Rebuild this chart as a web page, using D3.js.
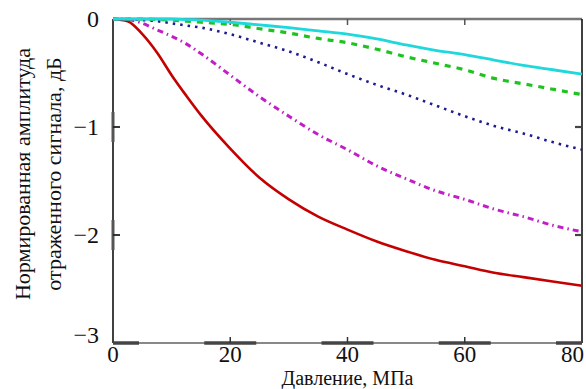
<!DOCTYPE html>
<html>
<head>
<meta charset="utf-8">
<script src="https://cdn.jsdelivr.net/npm/d3@7"></script>
<style>
  body { margin: 0; background: #fff; }
  svg { display: block; }
  text { font-family: 'Liberation Serif', 'DejaVu Serif', serif; fill: #111; }
</style>
</head>
<body>
<div id="chart"></div>
<script>
// pressure, MPa (shared by every series)
const pressure = [0, 2.5, 5, 7.5, 10, 12.5, 15, 20, 25, 30, 35, 40, 45, 50, 55, 60, 65, 70, 75, 80];

// normalized amplitude, dB
const seriesCyan    = [0, 0, 0, 0, 0, -0.005, -0.01, -0.03, -0.055, -0.08, -0.11, -0.14, -0.185, -0.24, -0.29, -0.33, -0.38, -0.43, -0.47, -0.51];
const seriesGreen   = [0, 0, 0, -0.005, -0.01, -0.02, -0.03, -0.05, -0.09, -0.13, -0.18, -0.22, -0.28, -0.35, -0.41, -0.47, -0.55, -0.60, -0.65, -0.70];
const seriesBlue    = [0, 0, -0.01, -0.02, -0.04, -0.06, -0.08, -0.14, -0.22, -0.30, -0.40, -0.51, -0.61, -0.70, -0.80, -0.90, -0.99, -1.06, -1.14, -1.21];
const seriesMagenta = [0, -0.005, -0.04, -0.10, -0.16, -0.23, -0.32, -0.52, -0.72, -0.90, -1.07, -1.21, -1.36, -1.48, -1.59, -1.67, -1.76, -1.83, -1.91, -1.97];
const seriesRed     = [0, -0.02, -0.14, -0.31, -0.52, -0.71, -0.89, -1.20, -1.47, -1.67, -1.83, -1.95, -2.06, -2.15, -2.23, -2.29, -2.35, -2.39, -2.43, -2.47];

const xTicks = [0, 20, 40, 60, 80];
const yTicks = [0, -1, -2, -3];
const xTitle = 'Давление, МПа';
const yTitleLines = ['Нормированная амплитуда', 'отраженного сигнала, дБ'];

const width = 586, height = 389;
const margin = {top: 19, right: 4, bottom: 46, left: 113};
const innerW = width - margin.left - margin.right;
const innerH = height - margin.top - margin.bottom;

const svg = d3.select('#chart').append('svg')
  .attr('width', width)
  .attr('height', height);

const x = d3.scaleLinear().domain([0, 80]).range([margin.left, margin.left + innerW]);
const y = d3.scaleLinear().domain([-3, 0]).range([margin.top + innerH, margin.top]);

// styles for each curve (drawn back to front)
const styles = [
  {data: seriesRed,     color: '#c40000', width: 2.6, dash: null},
  {data: seriesMagenta, color: '#c21ec8', width: 3,   dash: '6,4,1.5,4'},
  {data: seriesBlue,    color: '#1c1c8e', width: 2.6, dash: '2.5,5'},
  {data: seriesGreen,   color: '#1ec41e', width: 3.2, dash: '6,6'},
  {data: seriesCyan,    color: '#1ed8dc', width: 2.8, dash: null}
];

// frame: thin lines with darker thick stubs round the ticks
const frame = svg.append('g').attr('class', 'frame');
const x0 = x(0), x1 = x(80), yTop = y(0), yBot = y(-3);

frame.append('line').attr('x1', x0).attr('x2', x1).attr('y1', yTop).attr('y2', yTop)
  .style('stroke', '#777').style('stroke-width', 2.5);
frame.append('line').attr('x1', x0).attr('x2', x1).attr('y1', yBot).attr('y2', yBot)
  .style('stroke', '#888').style('stroke-width', 2);
frame.append('line').attr('x1', x0).attr('x2', x0).attr('y1', yTop).attr('y2', yBot)
  .style('stroke', '#111').style('stroke-width', 1.6);
frame.append('line').attr('x1', x1).attr('x2', x1).attr('y1', yTop).attr('y2', yBot)
  .style('stroke', '#111').style('stroke-width', 1.6);

// bottom stubs
frame.append('g').selectAll('line')
  .data(xTicks)
  .enter().append('line')
  .attr('x1', d => Math.max(x0, x(d) - 26))
  .attr('x2', d => Math.min(x1, x(d) + 26))
  .attr('y1', yBot).attr('y2', yBot)
  .style('stroke', '#444').style('stroke-width', 3.5);

// left stubs
frame.append('g').selectAll('line')
  .data([-1, -2])
  .enter().append('line')
  .attr('x1', x0).attr('x2', x0)
  .attr('y1', d => y(d) - 15).attr('y2', d => y(d) + 15)
  .style('stroke', '#555').style('stroke-width', 3);

// inward tick marks
const xIn = xTicks.filter(d => d > 0 && d < 80);
const yIn = [-1, -2];
frame.append('g').selectAll('line')
  .data(xIn).enter().append('line')
  .attr('x1', d => x(d)).attr('x2', d => x(d))
  .attr('y1', yBot).attr('y2', yBot - 6)
  .style('stroke', '#333').style('stroke-width', 1.5);
frame.append('g').selectAll('line')
  .data(xIn).enter().append('line')
  .attr('x1', d => x(d)).attr('x2', d => x(d))
  .attr('y1', yTop).attr('y2', yTop + 6)
  .style('stroke', '#555').style('stroke-width', 1.5);
frame.append('g').selectAll('line')
  .data(yIn).enter().append('line')
  .attr('x1', x0).attr('x2', x0 + 7)
  .attr('y1', d => y(d)).attr('y2', d => y(d))
  .style('stroke', '#222').style('stroke-width', 1.8);
frame.append('g').selectAll('line')
  .data(yIn).enter().append('line')
  .attr('x1', x1).attr('x2', x1 - 7)
  .attr('y1', d => y(d)).attr('y2', d => y(d))
  .style('stroke', '#444').style('stroke-width', 2.2);

// curves
const line = d3.line()
  .x(d => x(d[0]))
  .y(d => y(d[1]))
  .curve(d3.curveMonotoneX);

svg.append('g').attr('class', 'curves')
  .selectAll('path')
  .data(styles)
  .enter().append('path')
  .attr('d', s => line(pressure.map((p, i) => [p, s.data[i]])))
  .style('fill', 'none')
  .style('stroke', s => s.color)
  .style('stroke-width', s => s.width)
  .style('stroke-dasharray', s => s.dash)
  .style('stroke-linejoin', 'round');

// tick labels
svg.append('g').attr('class', 'xLabels')
  .selectAll('text')
  .data(xTicks)
  .enter().append('text')
  // last label is pulled in so it stays inside the page
  .attr('x', d => d === 80 ? x1 + 2 : x(d))
  .attr('y', yBot + 19)
  .attr('text-anchor', d => d === 80 ? 'end' : 'middle')
  .style('font-size', '23px')
  .text(d => d);

svg.append('g').attr('class', 'yLabels')
  .selectAll('text')
  .data(yTicks)
  .enter().append('text')
  .attr('x', x0 - 14)
  // the bottom label sits a little above the corner
  .attr('y', d => d === -3 ? y(d) - 8 : y(d))
  .attr('dy', '0.35em')
  .attr('text-anchor', 'end')
  .style('font-size', '24px')
  .text(d => d < 0 ? '\u2212' + Math.abs(d) : d);

// axis titles
svg.append('text')
  .attr('x', (x0 + x1) / 2)
  .attr('y', 385)
  .attr('text-anchor', 'middle')
  .style('font-size', '20px')
  .text(xTitle);

svg.append('g')
  .attr('transform', 'translate(0,' + 174 + ') rotate(-90)')
  .selectAll('text')
  .data(yTitleLines)
  .enter().append('text')
  .attr('x', 0)
  .attr('y', (d, i) => 30 + i * 31)
  .attr('text-anchor', 'middle')
  .style('font-size', '22px')
  .text(d => d);
</script>
</body>
</html>
